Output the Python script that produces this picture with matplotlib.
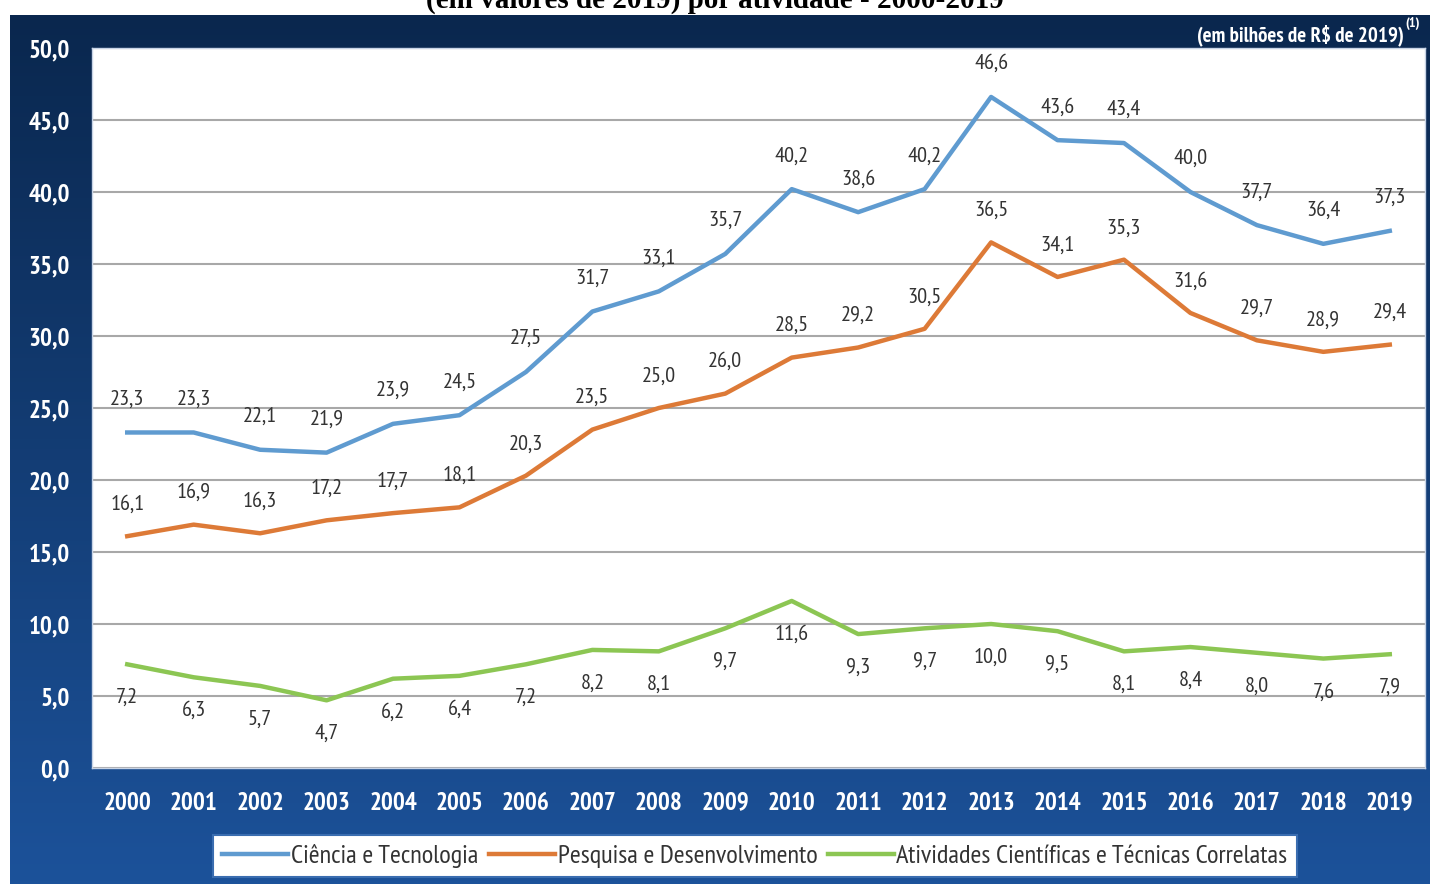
import numpy as np
import matplotlib
matplotlib.use('Agg')
import matplotlib.pyplot as plt
from matplotlib import font_manager

years = [str(y) for y in range(2000, 2020)]
ciencia = [23.3, 23.3, 22.1, 21.9, 23.9, 24.5, 27.5, 31.7, 33.1, 35.7,
           40.2, 38.6, 40.2, 46.6, 43.6, 43.4, 40.0, 37.7, 36.4, 37.3]
pesquisa = [16.1, 16.9, 16.3, 17.2, 17.7, 18.1, 20.3, 23.5, 25.0, 26.0,
            28.5, 29.2, 30.5, 36.5, 34.1, 35.3, 31.6, 29.7, 28.9, 29.4]
atividades = [7.2, 6.3, 5.7, 4.7, 6.2, 6.4, 7.2, 8.2, 8.1, 9.7,
              11.6, 9.3, 9.7, 10.0, 9.5, 8.1, 8.4, 8.0, 7.6, 7.9]
names = ['Ciência e Tecnologia', 'Pesquisa e Desenvolvimento',
         'Atividades Científicas e Técnicas Correlatas']
yticks = [0, 5, 10, 15, 20, 25, 30, 35, 40, 45, 50]

# narrow font if there is one
avail = {f.name for f in font_manager.fontManager.ttflist}
cond = 'DejaVu Sans'
for cand in ['PT Sans Narrow', 'Archivo Narrow', 'Fira Sans Extra Condensed',
             'Fira Sans Condensed', 'Roboto Condensed', 'Open Sans Condensed',
             'Encode Sans Condensed', 'Saira Condensed']:
    if cand in avail:
        cond = cand
        break

W, H = 1430, 884
fig = plt.figure(figsize=(W / 100, H / 100), dpi=100)

# blue gradient panel
bg = fig.add_axes([10 / W, 0, 1420 / W, (H - 15) / H])
grad = np.linspace(0, 1, 256).reshape(-1, 1)
top = np.array([0x0a, 0x27, 0x4e]) / 255
bot = np.array([0x1c, 0x52, 0x9a]) / 255
img = top + grad[:, :, None] * (bot - top)
bg.imshow(img, aspect='auto', extent=[0, 1, 0, 1])
bg.axis('off')

ax = fig.add_axes([92 / W, 1 - 768 / H, (1425 - 92) / W, (768 - 48) / H])
ax.set_facecolor('white')
x = np.arange(len(years))
c1, c2, c3 = '#5f9bd0', '#dd7a37', '#8cc653'
ax.plot(x, ciencia, color=c1, lw=3.2, label=names[0], zorder=3)
ax.plot(x, pesquisa, color=c2, lw=3.2, label=names[1], zorder=3)
ax.plot(x, atividades, color=c3, lw=3.2, label=names[2], zorder=3)

ax.set_xlim(-0.53, 19.53)
ax.set_ylim(0, 50)
ax.set_yticks(yticks)
ax.set_yticklabels([f'{v:.1f}'.replace('.', ',') for v in yticks])
ax.set_xticks(x)
ax.set_xticklabels(years)
ax.grid(axis='y', color='#a8a8a8', lw=1.5)
ax.set_axisbelow(True)
ax.tick_params(length=0, colors='white', labelsize=18, pad=17)
ax.tick_params(axis='y', pad=16)
for lab in ax.get_xticklabels() + ax.get_yticklabels():
    lab.set_fontweight('bold')
    lab.set_family(cond)
for s in ax.spines.values():
    s.set_color('#c8d4e6')
    s.set_linewidth(1)

def fmt(v):
    return f'{v:.1f}'.replace('.', ',')

for i in range(len(years)):
    ax.annotate(fmt(ciencia[i]), (x[i], ciencia[i]), xytext=(0, 24),
                textcoords='offset points', ha='center', va='center',
                fontsize=16, color='#333333', family=cond)
    ax.annotate(fmt(pesquisa[i]), (x[i], pesquisa[i]), xytext=(0, 23),
                textcoords='offset points', ha='center', va='center',
                fontsize=16, color='#333333', family=cond)
    ax.annotate(fmt(atividades[i]), (x[i], atividades[i]), xytext=(0, -24),
                textcoords='offset points', ha='center', va='center',
                fontsize=16, color='#333333', family=cond)

fig.text(1404 / W, 1 - 35 / H, '(em bilhões de R\\$ de 2019)', ha='right',
         va='center', color='white', fontsize=15, fontweight='bold', family=cond)
fig.text(1405 / W, 1 - 24 / H, '(1)', ha='left', va='center', color='white',
         fontsize=10, fontweight='bold', family=cond)

fig.text(0.5, 1 - 8 / H, '(em valores de 2019) por atividade - 2000-2019',
         ha='center', va='baseline', fontsize=21, fontweight='bold',
         family='Liberation Serif', color='black')

leg = fig.legend(loc='center', bbox_to_anchor=(755 / W, 1 - 856 / H), ncol=3,
                 frameon=True, fancybox=False, edgecolor='#3a6db0',
                 facecolor='white', framealpha=1,
                 handlelength=2.5, handletextpad=0.1, columnspacing=0.4,
                 borderpad=0.35, prop={'family': cond, 'size': 19})
leg.get_frame().set_linewidth(1.5)
for t in leg.get_texts():
    t.set_color('#333333')

fig.savefig('out.png', dpi=100)
